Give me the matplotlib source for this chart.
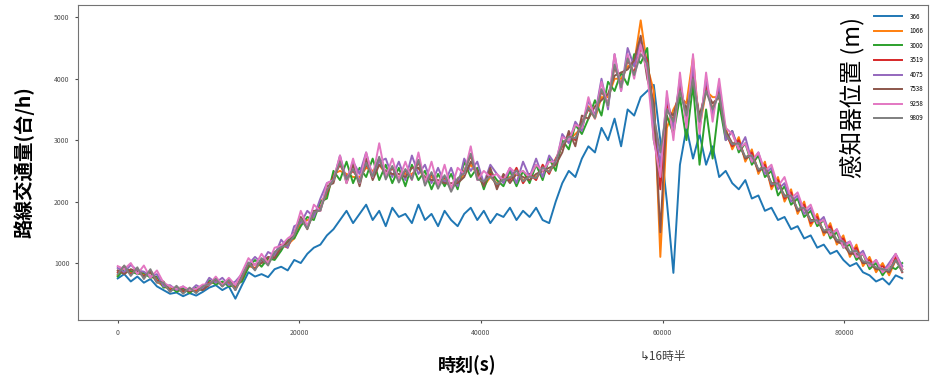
import numpy as np
import matplotlib
matplotlib.use('Agg')
import matplotlib.pyplot as plt
import matplotlib.transforms as mtransforms

plt.rcParams['font.family'] = ['Noto Sans CJK JP', 'DejaVu Sans']

# sampling: one value every 720 s over the day
step = 720
t = np.arange(121) * step

labels = ['366', '1066', '3000', '3519', '4075', '7538', '9258', '9809']

q366 = [750, 820, 700, 780, 680, 740, 620, 560, 500, 520,
        460, 510, 470, 530, 600, 640, 560, 620, 420, 640,
        850, 780, 820, 770, 900, 940, 880, 1050, 1000, 1150,
        1250, 1300, 1450, 1550, 1700, 1850, 1650, 1800, 1950, 1700,
        1850, 1600, 1900, 1750, 1800, 1650, 1950, 1700, 1800, 1600,
        1850, 1700, 1600, 1800, 1900, 1700, 1850, 1650, 1800, 1750,
        1900, 1700, 1850, 1750, 1900, 1700, 1650, 2000, 2300, 2500,
        2400, 2700, 2900, 2800, 3200, 3000, 3350, 2900, 3500, 3400,
        3700, 3800, 3900, 3000, 2000, 840, 2600, 3200, 2700, 3100,
        2600, 2900, 2400, 2500, 2300, 2200, 2350, 2050, 2100, 1850,
        1900, 1700, 1750, 1550, 1600, 1400, 1450, 1250, 1300, 1150,
        1200, 1050, 950, 1000, 850, 800, 700, 750, 650, 800, 750]

q1066 = [800, 920, 860, 870, 800, 850, 700, 620, 580, 570,
         540, 560, 550, 620, 660, 700, 680, 660, 600, 800,
         950, 920, 1000, 1050, 1100, 1250, 1300, 1400, 1650, 1700,
         1750, 2000, 2100, 2450, 2500, 2450, 2400, 2400, 2550, 2500,
         2600, 2450, 2450, 2400, 2450, 2450, 2550, 2350, 2400, 2300,
         2350, 2250, 2300, 2450, 2600, 2450, 2250, 2400, 2300, 2350,
         2400, 2450, 2350, 2400, 2400, 2500, 2500, 2600, 2950, 3000,
         3100, 3200, 3550, 3350, 3700, 3700, 4000, 4000, 4200, 4250,
         4950, 4200, 3800, 1100, 3200, 3500, 3700, 3600, 4350, 3200,
         3800, 3700, 3700, 3200, 2850, 3050, 2650, 2850, 2450, 2650,
         2200, 2400, 2000, 2200, 1800, 2000, 1600, 1800, 1450, 1650,
         1300, 1450, 1100, 1300, 950, 1100, 850, 1000, 800, 1050, 900]

q3000 = [780, 900, 870, 820, 840, 760, 780, 600, 620, 530,
         590, 510, 600, 560, 720, 650, 700, 620, 640, 700,
         930, 1050, 940, 1080, 1050, 1200, 1380, 1400, 1600, 1750,
         1700, 2000, 2050, 2500, 2350, 2650, 2300, 2550, 2400, 2700,
         2350, 2600, 2300, 2550, 2250, 2600, 2350, 2500, 2200, 2450,
         2250, 2450, 2200, 2650, 2400, 2550, 2200, 2500, 2350, 2250,
         2500, 2250, 2500, 2300, 2600, 2350, 2700, 2500, 3000, 2850,
         3250, 3100, 3350, 3650, 3400, 3950, 3800, 4100, 3900, 4400,
         4250, 4500, 3000, 2500, 3400, 3100, 3700, 3000, 3900, 2600,
         3500, 2700, 3600, 3000, 3150, 2800, 2950, 2600, 2750, 2400,
         2500, 2100, 2250, 1950, 2050, 1750, 1850, 1600, 1700, 1400,
         1500, 1250, 1300, 1050, 1150, 900, 1000, 800, 950, 900, 1000]

q3519 = [850, 950, 820, 900, 780, 880, 720, 650, 560, 600,
         520, 580, 530, 600, 680, 720, 650, 700, 580, 750,
         1000, 900, 1050, 1000, 1150, 1300, 1250, 1500, 1700, 1600,
         1800, 1900, 2150, 2400, 2600, 2400, 2500, 2350, 2600, 2450,
         2700, 2400, 2550, 2350, 2500, 2400, 2650, 2300, 2450, 2250,
         2400, 2200, 2350, 2500, 2750, 2400, 2300, 2450, 2250, 2400,
         2350, 2550, 2300, 2450, 2350, 2600, 2450, 2700, 2900, 3100,
         3000, 3300, 3500, 3400, 3800, 3600, 4200, 3900, 4300, 4100,
         4500, 4300, 3500, 2200, 3600, 3300, 3900, 3400, 4100, 3300,
         3900, 3500, 3800, 3100, 2900, 3000, 2700, 2800, 2500, 2600,
         2250, 2350, 2050, 2150, 1850, 1950, 1650, 1750, 1500, 1600,
         1350, 1400, 1150, 1250, 1000, 1050, 900, 950, 850, 1100, 850]

q4075 = [920, 850, 970, 880, 860, 780, 820, 620, 640, 560,
         620, 540, 640, 580, 760, 680, 760, 640, 700, 820,
         980, 1100, 1000, 1180, 1120, 1380, 1250, 1600, 1650, 1850,
         1750, 2050, 2300, 2350, 2750, 2350, 2650, 2450, 2800, 2400,
         2650, 2700, 2400, 2650, 2350, 2750, 2450, 2600, 2300, 2550,
         2300, 2550, 2250, 2700, 2500, 2650, 2300, 2600, 2450, 2300,
         2550, 2300, 2650, 2400, 2700, 2400, 2750, 2600, 3100, 2950,
         3300, 3150, 3650, 3400, 4000, 3500, 4400, 3800, 4500, 4200,
         4650, 4200, 3300, 2600, 3700, 3200, 4000, 3300, 4200, 3200,
         4000, 3400, 3900, 3000, 3150, 2850, 3050, 2650, 2800, 2450,
         2550, 2200, 2300, 2000, 2100, 1800, 1900, 1650, 1750, 1450,
         1550, 1300, 1350, 1100, 1200, 950, 1050, 850, 1000, 1150, 950]

q7538 = [880, 820, 900, 860, 780, 850, 680, 700, 540, 610,
         560, 540, 580, 560, 640, 750, 620, 740, 560, 800,
         960, 980, 1000, 1100, 1080, 1250, 1340, 1450, 1750, 1550,
         1850, 1850, 2250, 2300, 2700, 2300, 2600, 2250, 2700, 2350,
         2600, 2500, 2450, 2450, 2400, 2550, 2550, 2400, 2350, 2350,
         2300, 2300, 2300, 2400, 2650, 2500, 2250, 2550, 2200, 2450,
         2300, 2450, 2400, 2350, 2450, 2500, 2550, 2600, 2800, 3150,
         2900, 3400, 3350, 3550, 3650, 3750, 4050, 4100, 4150, 4300,
         4700, 4000, 3600, 1500, 3500, 3400, 3800, 3500, 4000, 3400,
         3800, 3600, 3700, 3150, 2950, 2950, 2700, 2750, 2500, 2550,
         2300, 2300, 2100, 2100, 1850, 1900, 1700, 1700, 1500, 1500,
         1350, 1300, 1150, 1150, 1000, 1000, 900, 900, 850, 1050, 900]

q9258 = [950, 900, 1000, 820, 960, 760, 880, 680, 620, 580,
         620, 560, 580, 650, 650, 780, 640, 760, 640, 850,
         1080, 960, 1150, 1000, 1250, 1280, 1400, 1480, 1850, 1600,
         1950, 1850, 2300, 2350, 2750, 2300, 2700, 2300, 2800, 2400,
         2950, 2400, 2700, 2350, 2650, 2350, 2800, 2300, 2650, 2250,
         2600, 2200, 2550, 2450, 2900, 2350, 2500, 2400, 2450, 2350,
         2550, 2450, 2500, 2400, 2600, 2500, 2650, 2650, 3050, 3000,
         3250, 3200, 3700, 3350, 3950, 3550, 4400, 3800, 4400, 4000,
         4550, 4100, 3000, 2400, 3800, 3000, 4100, 3200, 4400, 3100,
         4100, 3300, 4000, 3200, 3100, 2850, 2950, 2650, 2800, 2500,
         2600, 2250, 2400, 2050, 2150, 1850, 1950, 1650, 1700, 1450,
         1550, 1250, 1350, 1100, 1150, 950, 1050, 850, 950, 1150, 900]

q9809 = [820, 960, 790, 930, 740, 900, 690, 680, 530, 630,
         500, 600, 510, 620, 660, 740, 620, 720, 560, 770,
         1010, 880, 1080, 960, 1180, 1260, 1290, 1450, 1720, 1560,
         1830, 1860, 2180, 2360, 2640, 2360, 2530, 2310, 2630, 2410,
         2730, 2360, 2580, 2310, 2530, 2360, 2680, 2260, 2480, 2210,
         2430, 2160, 2380, 2460, 2780, 2360, 2330, 2410, 2280, 2360,
         2380, 2510, 2330, 2410, 2380, 2560, 2480, 2660, 2930, 3060,
         3030, 3260, 3530, 3360, 3830, 3560, 4230, 3860, 4330, 4060,
         4400, 4250, 3400, 2800, 3500, 3300, 3800, 3400, 4000, 3300,
         3800, 3500, 3750, 3100, 2930, 2950, 2730, 2750, 2530, 2550,
         2280, 2300, 2080, 2100, 1880, 1900, 1680, 1700, 1530, 1550,
         1380, 1350, 1180, 1200, 1030, 1000, 930, 900, 880, 1050, 860]

series = [q366, q1066, q3000, q3519, q4075, q7538, q9258, q9809]

fig = plt.figure(figsize=(9.37, 3.83), dpi=100)
ax = fig.add_axes([0.083, 0.164, 0.907, 0.823])

for lab, q in zip(labels, series):
    ax.plot(t, q, lw=1.4, label=lab)

ax.set_xlim(-4400, 89200)
ax.set_ylim(70, 5200)
ax.set_xticks([0, 20000, 40000, 60000, 80000])
ax.set_yticks([1000, 2000, 3000, 4000, 5000])
ax.tick_params(labelsize=5, length=2.5, colors='0.3')
for s in ax.spines.values():
    s.set_color('0.45')

ax.set_ylabel('路線交通量(台/h)', fontsize=14, fontweight='bold', labelpad=14)
ax.set_xlabel('時刻(s)', fontsize=13, fontweight='bold')
ax.xaxis.set_label_coords(0.458, -0.11)

# mark of 16:30 under the x axis
trans = mtransforms.blended_transform_factory(ax.transData, ax.transAxes)
ax.text(60000, -0.115, '↳16時半', transform=trans, ha='center', va='center',
        fontsize=8.5, color='0.25')

leg = ax.legend(loc='upper right', bbox_to_anchor=(1.0, 0.99), fontsize=4.5,
                frameon=False, handlelength=4.5, labelspacing=1.05,
                handletextpad=1.2, borderaxespad=0.3)
fig.text(0.909, 0.745, '感知器位置 (m)', rotation=90, ha='center', va='center',
         fontsize=17)

fig.savefig('out.png', dpi=100)
